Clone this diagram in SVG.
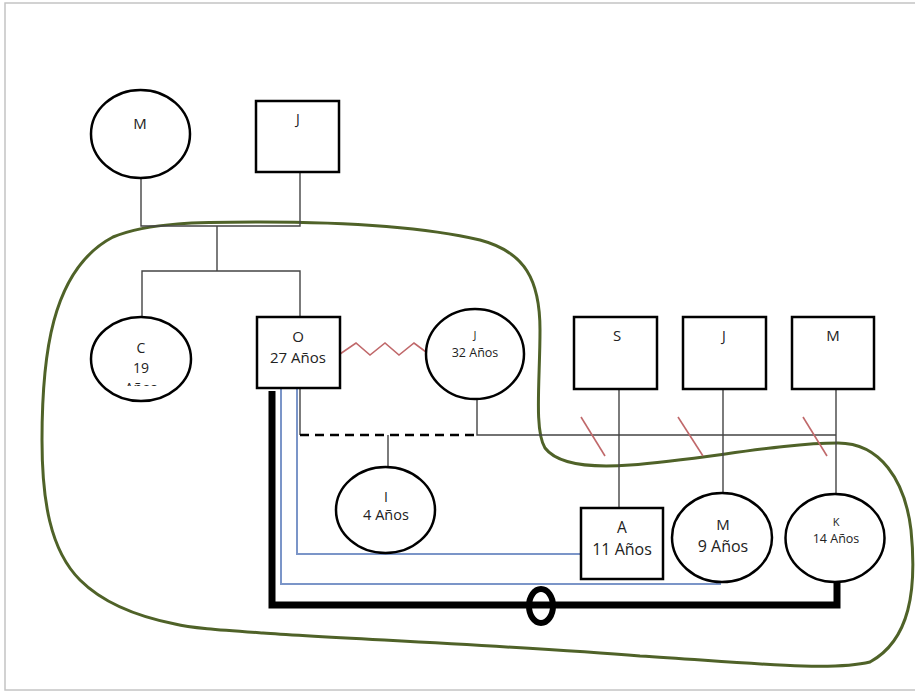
<svg xmlns="http://www.w3.org/2000/svg" width="915" height="691" viewBox="0 0 915 691">
<defs>
<style>
.node{fill:#fff;stroke:#000;stroke-width:2.5}
.t{font-family:"Open Sans","Liberation Sans",sans-serif;fill:#222;text-anchor:middle}
.c{fill:none;stroke:#444;stroke-width:1.4}
.blue{fill:none;stroke:#7b95c8;stroke-width:2}
.red{fill:none;stroke:#c0686a;stroke-width:1.6}
.thick{fill:none;stroke:#000;stroke-width:7}
</style>
<clipPath id="clipC"><rect x="80" y="300" width="130" height="86"/></clipPath>
</defs>
<rect x="0" y="0" width="915" height="691" fill="#fff"/>
<rect x="5" y="3" width="930" height="687" fill="none" stroke="#c4c4c4" stroke-width="1.5"/>

<path id="boundary" d="M113,237 C150,222 200,222 260,222 C330,222 420,226 480,240 C525,252 540,280 540,330 C540,380 534,430 545,448 C558,465 590,468 630,465 C700,460 780,443 838,443 C880,443 905,480 911,530 C917,590 910,640 870,662 C830,672 740,662 640,656 C520,646 330,638 263,633 C220,630 190,628 175,624 C130,615 100,600 80,580 C50,550 42,500 42,440 C42,360 50,270 113,237 Z" fill="none" stroke="#4f6228" stroke-width="3"/>

<g id="connectors">
<polyline class="c" points="141,178 141,226 300,226 300,172"/>
<polyline class="c" points="217,226 217,271"/>
<polyline class="c" points="142,317 142,271 300,271 300,317"/>
<polyline class="c" points="300,388 300,435"/>
<line x1="300" y1="435" x2="477" y2="435" stroke="#000" stroke-width="2.5" stroke-dasharray="9,6"/>
<polyline class="c" points="477,398 477,435 836,435"/>
<line class="c" x1="388" y1="435" x2="388" y2="467"/>
<line class="c" x1="619" y1="389" x2="619" y2="508"/>
<line class="c" x1="723" y1="389" x2="723" y2="493"/>
<line class="c" x1="836" y1="389" x2="836" y2="494"/>
<polyline class="red" points="340,354 356,343 370,355 385,343 399,355 414,343 426,352"/>
<line class="red" x1="581" y1="417" x2="605" y2="456"/>
<line class="red" x1="678" y1="417" x2="703" y2="456"/>
<line class="red" x1="803" y1="417" x2="827" y2="456"/>
<polyline class="blue" points="297,388 297,554 581,554"/>
<polyline class="blue" points="281,388 281,584 721,584"/>
<polyline class="thick" points="272,391 272,605 837,605 837,582"/>
<ellipse cx="541" cy="606" rx="12" ry="17" fill="none" stroke="#000" stroke-width="6"/>
</g>

<g id="n-M-top"><ellipse class="node" cx="140.5" cy="134" rx="49.5" ry="44"/><text class="t" x="140" y="129" font-size="15">M</text></g>
<g id="n-J-top"><rect class="node" x="256" y="101" width="83" height="71"/><text class="t" x="298" y="124" font-size="14">J</text></g>
<g id="n-C"><ellipse class="node" cx="141" cy="359" rx="50" ry="42"/><g clip-path="url(#clipC)"><text class="t" x="141" y="353" font-size="14">C</text><text class="t" x="141" y="373" font-size="14">19</text><text class="t" x="141" y="393" font-size="14">Años</text></g></g>
<g id="n-O"><rect class="node" x="257" y="317" width="83" height="71"/><text class="t" x="298" y="342" font-size="15">O</text><text class="t" x="298" y="363" font-size="15">27 Años</text></g>
<g id="n-J32"><ellipse class="node" cx="475" cy="354" rx="49" ry="45"/><text class="t" x="475" y="339" font-size="11">J</text><text class="t" x="475" y="357" font-size="12.5">32 Años</text></g>
<g id="n-I"><ellipse class="node" cx="385.5" cy="510" rx="49.5" ry="43"/><text class="t" x="386" y="502" font-size="14">I</text><text class="t" x="386" y="520" font-size="14.5">4 Años</text></g>
<g id="n-S"><rect class="node" x="574" y="317" width="83" height="72"/><text class="t" x="617" y="341" font-size="15">S</text></g>
<g id="n-J-right"><rect class="node" x="683" y="317" width="83" height="72"/><text class="t" x="724" y="341" font-size="14">J</text></g>
<g id="n-M-right"><rect class="node" x="792" y="317" width="82" height="72"/><text class="t" x="833" y="341" font-size="15">M</text></g>
<g id="n-A"><rect class="node" x="581" y="508" width="82" height="71"/><text class="t" x="622" y="533" font-size="15.5">A</text><text class="t" x="622" y="555" font-size="16">11 Años</text></g>
<g id="n-M9"><ellipse class="node" cx="722" cy="537.5" rx="50" ry="44.5"/><text class="t" x="723" y="530" font-size="15">M</text><text class="t" x="723" y="552" font-size="16">9 Años</text></g>
<g id="n-K"><ellipse class="node" cx="835" cy="538" rx="49.5" ry="44"/><text class="t" x="836" y="526" font-size="11">K</text><text class="t" x="836" y="543" font-size="12.5">14 Años</text></g>
</svg>
